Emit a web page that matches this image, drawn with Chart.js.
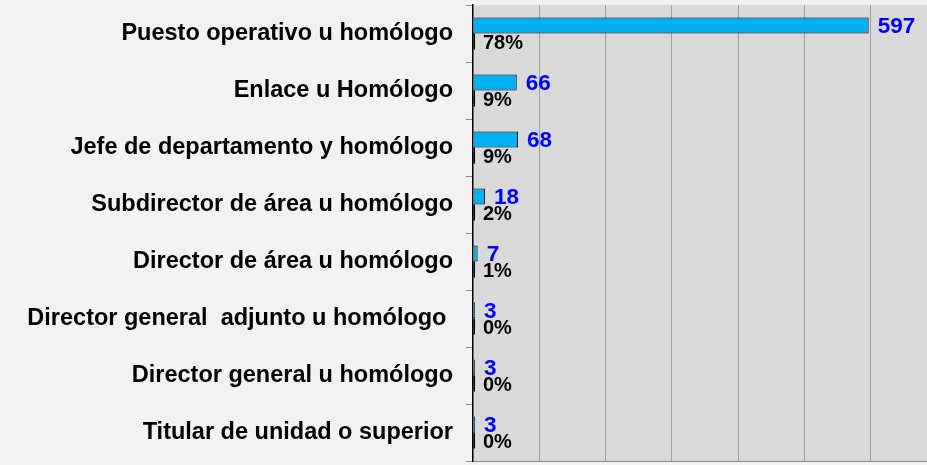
<!DOCTYPE html>
<html>
<head>
<meta charset="utf-8">
<script src="https://cdn.jsdelivr.net/npm/chart.js@4"></script>
<style>
  html, body { margin: 0; padding: 0; background: #f2f2f2; }
  #wrap { width: 927px; height: 465px; }
</style>
</head>
<body>
<div id="wrap"><canvas id="puestos"></canvas></div>
<script>
// --- DATOS ---
const categorias = [
    'Puesto operativo u homólogo',
    'Enlace u Homólogo',
    'Jefe de departamento y homólogo',
    'Subdirector de área u homólogo',
    'Director de área u homólogo',
    'Director general  adjunto u homólogo ',
    'Director general u homólogo',
    'Titular de unidad o superior'
];
const totales = [597, 66, 68, 18, 7, 3, 3, 3];
const porcentajes = [78, 9, 9, 2, 1, 0, 0, 0];

const FONT = '"Liberation Sans", Arial, sans-serif';

// fondo gris del área de trazado
const fondoArea = {
    id: 'fondoArea',
    beforeDraw(chart) {
        const { ctx, chartArea: a } = chart;
        ctx.save();
        ctx.fillStyle = '#d9d9d9';
        ctx.fillRect(a.left, a.top, a.right - a.left, a.bottom - a.top);
        ctx.restore();
    }
};

// etiquetas: totales en azul, porcentajes en negro
const etiquetas = {
    id: 'etiquetas',
    afterDatasetsDraw(chart) {
        const ctx = chart.ctx;
        const x0 = chart.scales.x.getPixelForValue(0);
        ctx.save();
        ctx.textBaseline = 'middle';
        ctx.textAlign = 'left';

        ctx.font = `bold 22.5px ${FONT}`;
        ctx.fillStyle = '#0000ff';
        chart.getDatasetMeta(0).data.forEach((bar, i) => {
            ctx.fillText(String(totales[i]), bar.x + 9, bar.y + 1);
        });

        ctx.font = `bold 20px ${FONT}`;
        ctx.fillStyle = '#000000';
        chart.getDatasetMeta(1).data.forEach((bar, i) => {
            ctx.fillText(porcentajes[i] + '%', x0 + 10, bar.y + 2);
        });
        ctx.restore();
    }
};

const ctx = document.getElementById('puestos').getContext('2d');

new Chart(ctx, {
    type: 'bar',
    data: {
        labels: categorias,
        datasets: [
            {
                label: 'Total',
                data: totales,
                backgroundColor: '#00b0f0',
                borderColor: '#000000',
                borderWidth: 1,
                barPercentage: 1,
                categoryPercentage: 0.56
            },
            {
                label: 'Porcentaje',
                data: porcentajes.map(p => p / 100),
                backgroundColor: '#000000',
                borderWidth: 0,
                minBarLength: 2,
                barPercentage: 1,
                categoryPercentage: 0.56
            }
        ]
    },
    options: {
        indexAxis: 'y',
        responsive: true,
        maintainAspectRatio: false,
        animation: false,
        layout: { padding: { top: 5, bottom: 4, left: 0, right: 0 } },
        plugins: {
            legend: { display: false },
            tooltip: { enabled: false }
        },
        scales: {
            x: {
                min: 0,
                max: 685,
                ticks: { display: false, stepSize: 100 },
                grid: {
                    color: (c) => (c.tick && c.tick.value % 100 === 0 && c.tick.value > 0) ? '#a0a0a0' : 'rgba(0,0,0,0)',
                    lineWidth: 1,
                    drawTicks: false
                },
                border: { display: true, color: '#8c8c8c', width: 1 }
            },
            y: {
                afterFit: (scale) => {
                    scale.width = 473;
                    scale.paddingTop = 0;
                    scale.paddingBottom = 0;
                },
                ticks: {
                    color: '#000000',
                    font: { family: FONT, size: 23.5, weight: 'bold' },
                    padding: 13,
                    autoSkip: false
                },
                grid: {
                    drawOnChartArea: false,
                    drawTicks: true,
                    tickLength: 7,
                    color: '#8c8c8c'
                },
                border: { display: true, color: '#000000', width: 1.5 }
            }
        }
    },
    plugins: [fondoArea, etiquetas]
});
</script>
</body>
</html>
